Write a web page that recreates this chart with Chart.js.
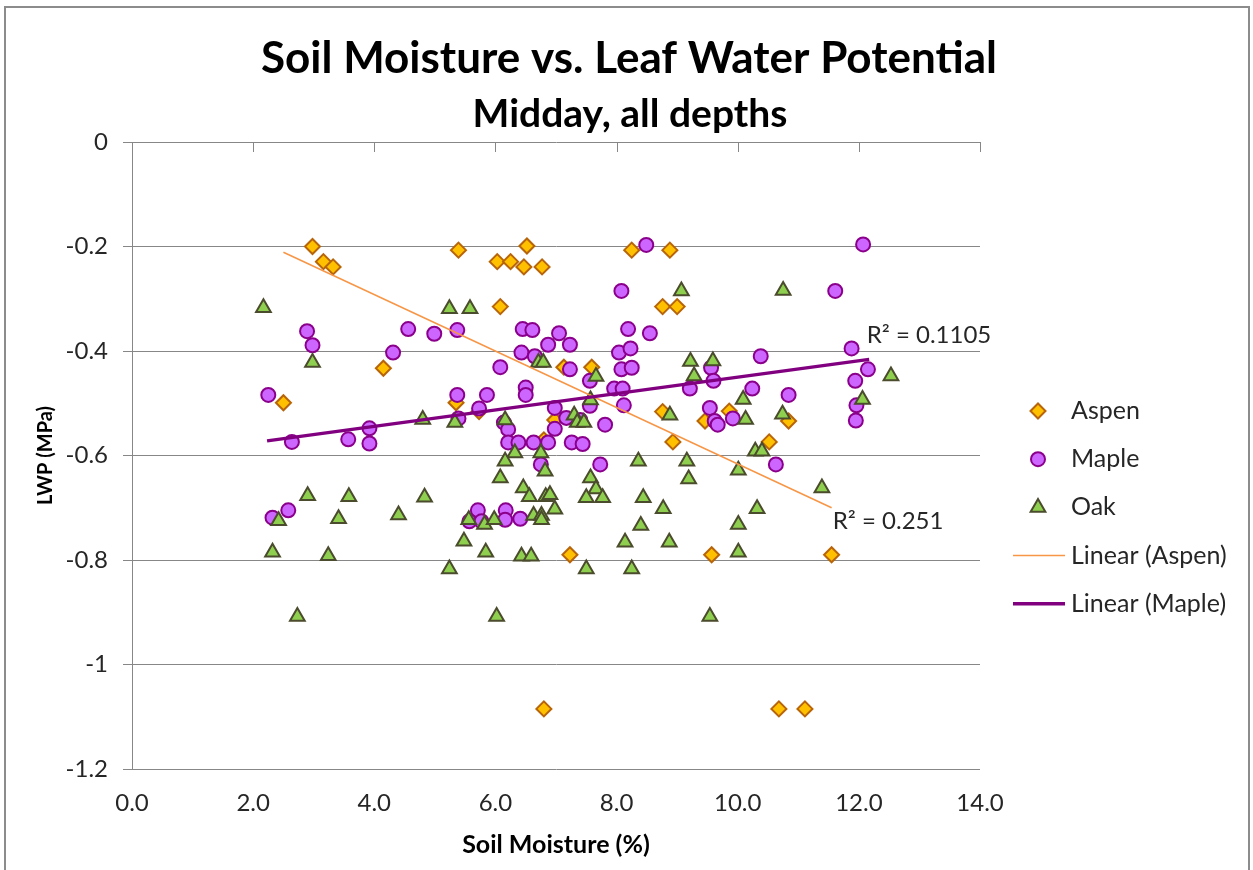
<!DOCTYPE html>
<html>
<head>
<meta charset="utf-8">
<title>Soil Moisture vs. Leaf Water Potential</title>
<script src="https://cdn.jsdelivr.net/npm/chart.js@4.4.0/dist/chart.umd.min.js"></script>
<style>
  body { margin: 0; background: #fff; }
  #chart_holder { position: relative; width: 1253px; height: 870px; }
</style>
</head>
<body>
<div id="chart_holder">
  <canvas id="myChart" width="1253" height="870"></canvas>
</div>
<script>
// ******* DATA *****************************************

let titleText = 'Soil Moisture vs. Leaf Water Potential';
let subtitleText = 'Midday, all depths';
let xTitle = 'Soil Moisture (%)';
let yTitle = 'LWP (MPa)';

let xTicks = [0, 2, 4, 6, 8, 10, 12, 14];
let yTicks = [0, -0.2, -0.4, -0.6, -0.8, -1, -1.2];

// Aspen
let aspenX = [2.98, 3.16, 3.32, 5.39, 6.03, 6.25, 6.52, 6.47, 6.77, 8.25,
  8.88, 6.08, 8.76, 9.00, 4.15, 7.13, 7.59, 2.50, 5.35, 5.73,
  6.98, 6.80, 8.76, 8.93, 9.46, 9.86, 10.84, 10.52, 7.23, 9.57,
  11.55, 6.80, 10.68, 11.11];
let aspenY = [-0.20, -0.229, -0.239, -0.207, -0.229, -0.229, -0.199, -0.239, -0.239, -0.207,
  -0.207, -0.315, -0.315, -0.315, -0.433, -0.431, -0.431, -0.499, -0.499, -0.516,
  -0.532, -0.57, -0.516, -0.574, -0.534, -0.515, -0.534, -0.574, -0.790, -0.790,
  -0.790, -1.085, -1.085, -1.085];

// Maple
let mapleX = [2.25, 2.89, 2.98, 4.56, 4.99, 5.37, 4.31, 6.08, 5.37, 5.86,
  5.73, 5.39, 6.14, 6.21, 3.92, 2.64, 3.57, 3.92, 2.58, 2.32,
  5.71, 5.57, 5.77, 8.49, 8.08, 6.45, 6.61, 7.05, 6.87, 7.23,
  8.19, 8.55, 6.43, 6.65, 8.04, 8.23, 7.23, 8.08, 8.25, 7.56,
  6.50, 6.50, 7.96, 8.10, 9.21, 7.56, 8.12, 6.98, 7.17, 7.40,
  7.81, 6.98, 6.21, 6.38, 6.63, 6.87, 7.26, 7.44, 6.75, 7.73,
  6.17, 6.16, 6.41, 12.07, 11.61, 11.88, 10.38, 9.56, 12.15, 9.60,
  11.94, 10.24, 10.84, 11.96, 9.54, 9.92, 9.62, 9.67, 11.95, 10.63];
let mapleY = [-0.484, -0.362, -0.389, -0.358, -0.367, -0.360, -0.403, -0.431, -0.484, -0.484,
  -0.510, -0.529, -0.537, -0.550, -0.548, -0.574, -0.569, -0.577, -0.705, -0.719,
  -0.705, -0.726, -0.726, -0.197, -0.285, -0.358, -0.360, -0.366, -0.388, -0.388,
  -0.358, -0.366, -0.403, -0.410, -0.403, -0.395, -0.435, -0.435, -0.432, -0.457,
  -0.470, -0.484, -0.472, -0.472, -0.472, -0.505, -0.504, -0.509, -0.528, -0.532,
  -0.541, -0.549, -0.575, -0.575, -0.575, -0.575, -0.575, -0.578, -0.617, -0.617,
  -0.705, -0.723, -0.721, -0.196, -0.285, -0.395, -0.410, -0.432, -0.435, -0.457,
  -0.457, -0.472, -0.484, -0.504, -0.509, -0.529, -0.534, -0.541, -0.533, -0.617];

// Oak
let oakX = [2.17, 5.24, 5.58, 2.98, 4.80, 5.33, 2.90, 3.58, 4.83, 2.42,
  3.41, 4.40, 5.56, 5.82, 5.98, 5.48, 5.84, 2.32, 3.24, 5.24,
  2.73, 6.02, 9.07, 6.71, 6.79, 9.22, 7.66, 7.57, 9.28, 6.16,
  7.30, 7.35, 7.46, 8.88, 6.32, 6.75, 6.16, 6.82, 6.08, 8.36,
  9.16, 7.57, 9.19, 6.46, 7.66, 6.56, 6.83, 6.90, 7.50, 7.77,
  8.44, 8.77, 6.98, 6.63, 6.76, 6.76, 8.40, 8.14, 8.87, 6.43,
  6.59, 7.50, 8.25, 10.75, 9.59, 12.53, 10.09, 12.06, 10.74, 10.13,
  10.29, 10.40, 10.01, 11.39, 10.32, 10.01, 10.01, 9.54];
let oakY = [-0.317, -0.319, -0.319, -0.422, -0.531, -0.537, -0.677, -0.679, -0.680, -0.725,
  -0.721, -0.714, -0.723, -0.732, -0.723, -0.764, -0.785, -0.785, -0.792, -0.817,
  -0.908, -0.908, -0.285, -0.422, -0.422, -0.420, -0.449, -0.494, -0.448, -0.532,
  -0.523, -0.537, -0.537, -0.523, -0.595, -0.595, -0.611, -0.630, -0.643, -0.611,
  -0.611, -0.643, -0.645, -0.662, -0.664, -0.679, -0.679, -0.675, -0.681, -0.681,
  -0.681, -0.702, -0.703, -0.715, -0.715, -0.723, -0.734, -0.766, -0.766, -0.793,
  -0.793, -0.817, -0.817, -0.284, -0.419, -0.448, -0.493, -0.493, -0.521, -0.531,
  -0.592, -0.592, -0.628, -0.662, -0.702, -0.732, -0.785, -0.908];

// linear trend lines (end points as drawn)
let aspenFitX = [2.50, 11.55];
let aspenFitY = [-0.211, -0.700];
let mapleFitX = [2.23, 12.17];
let mapleFitY = [-0.572, -0.416];

// R squared labels : text, left x, middle y
let r2Text = ['R\u00B2 = 0.251', 'R\u00B2 = 0.1105'];
let r2X = [11.57, 12.13];
let r2Y = [-0.725, -0.370];


// makes {x,y} points out of two lists
function toPoints(xs, ys) {
  let out = [];
  for (let i = 0; i < xs.length; i++) {
    out.push({ x: xs[i], y: ys[i] });
  }
  return out;
}

function fmtY(v) {
  let r = Math.round(v * 10) / 10;
  if (r === 0) return '0';
  return String(r);
}

const FONT = 'Lato';

// ******* extra drawing: titles, legend, r2 labels, ticks on the y=0 line ******************
const extrasPlugin = {
  id: 'extras',
  afterDraw(chart) {
    const ctx = chart.ctx;
    const xs = chart.scales.x;
    const ys = chart.scales.y;
    const area = chart.chartArea;
    ctx.save();

    // border round the whole chart
    ctx.strokeStyle = '#8c8c8c';
    ctx.lineWidth = 2;
    ctx.strokeRect(5, 7, 1244, 900);

    // titles
    ctx.fillStyle = '#000';
    ctx.textAlign = 'center';
    ctx.textBaseline = 'alphabetic';
    ctx.font = 'bold 44px ' + FONT;
    ctx.fillText(titleText, 629, 73);
    ctx.font = 'bold 39px ' + FONT;
    ctx.fillText(subtitleText, 630, 127);

    // axis titles
    ctx.textBaseline = 'middle';
    ctx.font = 'bold 25px ' + FONT;
    ctx.fillText(xTitle, (area.left + area.right) / 2, 845);
    ctx.font = 'bold 20px ' + FONT;
    ctx.save();
    ctx.translate(46, (area.top + area.bottom) / 2);
    ctx.rotate(-Math.PI / 2);
    ctx.fillText(yTitle, 0, 0);
    ctx.restore();

    // the horizontal axis crosses at 0, so its tick marks hang from the top line
    ctx.strokeStyle = '#878787';
    ctx.lineWidth = 1;
    let y0 = ys.getPixelForValue(0);
    for (let i = 0; i < xTicks.length; i++) {
      let px = Math.round(xs.getPixelForValue(xTicks[i])) + 0.5;
      ctx.beginPath();
      ctx.moveTo(px, y0);
      ctx.lineTo(px, y0 + 10);
      ctx.stroke();
    }

    // R2 labels
    ctx.fillStyle = '#262626';
    ctx.font = '24px ' + FONT;
    ctx.textAlign = 'left';
    ctx.textBaseline = 'middle';
    for (let i = 0; i < r2Text.length; i++) {
      ctx.fillText(r2Text[i], xs.getPixelForValue(r2X[i]), ys.getPixelForValue(r2Y[i]));
    }

    // legend
    ctx.font = '25px ' + FONT;
    let legendTop = 411;
    let legendStep = 48.2;
    let ds = chart.data.datasets;
    let legendOrder = [4, 3, 2, 1, 0];
    for (let i = 0; i < legendOrder.length; i++) {
      let d = ds[legendOrder[i]];
      let ly = legendTop + i * legendStep;
      if (d.showLine) {
        ctx.strokeStyle = d.borderColor;
        ctx.lineWidth = d.borderWidth;
        ctx.beginPath();
        ctx.moveTo(1013, ly);
        ctx.lineTo(1065, ly);
        ctx.stroke();
      } else {
        ctx.fillStyle = d.backgroundColor;
        ctx.strokeStyle = d.borderColor;
        ctx.lineWidth = d.borderWidth;
        Chart.helpers.drawPoint(ctx, { pointStyle: d.pointStyle, radius: d.pointRadius, rotation: 0, borderWidth: d.borderWidth }, 1038, ly);
      }
      ctx.fillStyle = '#262626';
      ctx.fillText(d.label, 1071, ly);
    }

    ctx.restore();
  }
};


let canvasChart = document.getElementById('myChart');

const data = {
  datasets: [
    {
      label: 'Linear (Maple)',
      type: 'line',
      data: toPoints(mapleFitX, mapleFitY),
      showLine: true,
      borderColor: '#800080',
      borderWidth: 3.5,
      pointRadius: 0,
      fill: false,
      order: 0
    },
    {
      label: 'Linear (Aspen)',
      type: 'line',
      data: toPoints(aspenFitX, aspenFitY),
      showLine: true,
      borderColor: '#F79646',
      borderWidth: 1.5,
      pointRadius: 0,
      fill: false,
      order: 0
    },
    {
      label: 'Oak',
      data: toPoints(oakX, oakY),
      pointStyle: 'triangle',
      pointRadius: 8.5,
      backgroundColor: '#8FCF4F',
      borderColor: '#4B4B2D',
      borderWidth: 2,
      order: 1
    },
    {
      label: 'Maple',
      data: toPoints(mapleX, mapleY),
      pointStyle: 'circle',
      pointRadius: 7,
      backgroundColor: '#CC66FF',
      borderColor: '#8B008B',
      borderWidth: 2,
      order: 2
    },
    {
      label: 'Aspen',
      data: toPoints(aspenX, aspenY),
      pointStyle: 'rectRot',
      pointRadius: 7.5,
      backgroundColor: '#FFC000',
      borderColor: '#B8650A',
      borderWidth: 2,
      order: 3
    }
  ]
};

const config = {
  type: 'scatter',
  data: data,
  options: {
    responsive: false,
    animation: false,
    events: [],
    layout: { padding: { top: 142, right: 273, left: 0, bottom: 0 } },
    plugins: {
      legend: { display: false },
      title: { display: false },
      tooltip: { enabled: false }
    },
    scales: {
      x: {
        type: 'linear',
        min: 0,
        max: 14,
        afterFit: function (s) { s.height = 101; },
        afterBuildTicks: function (s) { s.ticks = xTicks.map(v => ({ value: v })); },
        ticks: {
          autoSkip: false,
          maxRotation: 0,
          padding: 20,
          color: '#262626',
          font: { family: FONT, size: 24 },
          callback: v => v.toFixed(1)
        },
        grid: { display: false, drawTicks: false },
        border: { display: false }
      },
      y: {
        type: 'linear',
        min: -1.2,
        max: 0,
        afterFit: function (s) { s.width = 132; },
        afterBuildTicks: function (s) { s.ticks = yTicks.map(v => ({ value: v })); },
        ticks: {
          autoSkip: false,
          padding: 15,
          color: '#262626',
          font: { family: FONT, size: 24 },
          callback: v => fmtY(v)
        },
        grid: { color: '#878787', lineWidth: 1, tickLength: 9, drawTicks: true },
        border: { display: true, color: '#878787', width: 1 }
      }
    }
  },
  plugins: [extrasPlugin]
};

const myChart = new Chart(canvasChart, config);
</script>
</body>
</html>
